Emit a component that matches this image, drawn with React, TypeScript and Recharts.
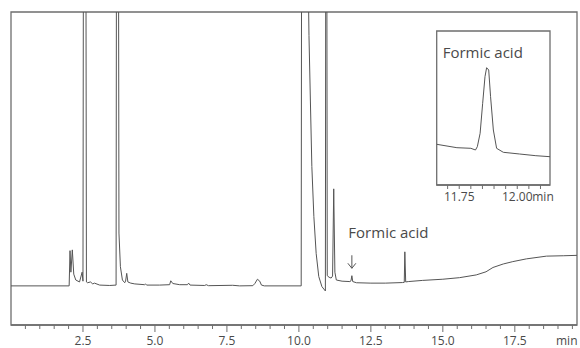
import React from 'react';
import { LineChart, Line, XAxis, YAxis, ReferenceDot, ReferenceArea } from 'recharts';

// ---------- data ----------
// main chromatogram: retention time (min) and detector signal (arb. units)
const mainTime = [
  0, 2.02, 2.05, 2.08, 2.13, 2.18, 2.25, 2.38, 2.47, 2.5,
  2.535, 2.58, 2.62, 2.66, 2.76, 2.84, 2.9, 3.08, 3.43, 3.65,
  3.68, 3.71, 3.75, 3.8, 3.87, 3.95, 3.98, 4.02, 4.06, 4.16,
  4.3, 4.64, 4.67, 4.71, 5.16, 5.51, 5.55, 5.62, 5.86, 6.13,
  6.17, 6.22, 6.73, 6.78, 6.86, 7.7, 7.94, 8.4, 8.47, 8.56,
  8.64, 8.7, 8.8, 10.08, 10.11, 10.3, 10.33, 10.35, 10.4, 10.45,
  10.52, 10.6, 10.69, 10.8, 10.92, 10.95, 10.985, 11.05, 11.12, 11.17,
  11.21, 11.25, 11.3, 11.5, 11.77, 11.81, 11.84, 11.87, 12.0, 12.5,
  13.0, 13.6, 13.66, 13.68, 13.71, 13.8, 14.3, 15.0, 15.58, 16.16,
  16.5, 16.74, 17.1, 17.43, 17.9, 18.6, 19.2, 19.66,
];
const mainSignal = [
  0, 0, 9.0, 3.5, 9.2, 3.0, 1.5, 1.0, 3.5, 1.2,
  200, 200, 1.0, 0.8, 1.0, 0.5, 0.7, 0.2, 0.1, 0.2,
  200, 200, 13.5, 4.9, 1.5, 0.8, 1.2, 3.2, 1.0, 0.7,
  0.5, 0.3, 0.5, 0.2, 0.2, 0.3, 1.3, 0.6, 0.3, 0.3,
  0.7, 0.2, 0.1, 0.3, 0.05, 0.15, 0, 0.05, 0.6, 1.7,
  1.2, 0.2, 0, 0, 200, 200, 75, 64, 47, 30.5,
  17.7, 8.3, 2.4, -0.2, -1.3, 200, 2.6, 2.2, 2.0, 2.5,
  24.8, 3.5, 1.5, 1.2, 1.1, 1.3, 2.6, 1.1, 0.8, 0.7,
  0.7, 0.85, 0.9, 8.7, 1.0, 1.1, 1.4, 1.7, 2.1, 2.8,
  3.6, 4.7, 5.6, 6.2, 6.9, 7.6, 7.7, 7.8,
];

// inset: zoom on the formic acid peak
const insetTime = [
  11.653, 11.74, 11.8, 11.82, 11.828, 11.84, 11.851, 11.861, 11.868, 11.877,
  11.885, 11.897, 11.911, 11.94, 12.01, 12.08, 12.141,
];
const insetSignal = [
  40.7, 37.3, 36.7, 35, 38.3, 51.7, 81.7, 108.3, 117.3, 115,
  88.3, 55, 36.7, 32.7, 31, 29.3, 28.3,
];

// axes
const mainDomain = [0, 19.66];
const mainYDomain = [-10, 70];
const mainMinorTicks = [
  0.5, 1, 1.5, 2, 2.5, 3, 3.5, 4, 4.5, 5, 5.5, 6, 6.5, 7, 7.5, 8, 8.5, 9, 9.5, 10,
  10.5, 11, 11.5, 12, 12.5, 13, 13.5, 14, 14.5, 15, 15.5, 16, 16.5, 17, 17.5, 18,
  18.5, 19, 19.5,
];
const mainMajorTicks = [2.5, 5, 7.5, 10, 12.5, 15, 17.5];
const mainMajorLabels = ['2.5', '5.0', '7.5', '10.0', '12.5', '15.0', '17.5'];
const unitLabel = 'min';
const mainUnitPos = 19.66;

const insetDomain = [11.653, 12.141];
const insetYDomain = [0, 154];
const insetTicks = [11.7, 11.75, 11.8, 11.85, 11.9, 11.95, 12.0, 12.05, 12.1];
const insetMajorTicks = [11.75, 12.0];
const insetMajorLabels = ['11.75', '12.00'];

const peakName = 'Formic acid';
const peakTime = 11.84;
const arrowTipValue = 4.5;

// ---------- styling ----------
const FONT = '"Open Sans", "Noto Sans", sans-serif';
const INK = '#555555';
const FRAME = '#6e6e6e';
const TEXT = '#4a4a4a';

const mainData = mainTime.map((t, i) => ({ t, v: mainSignal[i] }));
const insetData = insetTime.map((t, i) => ({ t, v: insetSignal[i] }));

const MainTick = (props: any) => {
  const { x, y, payload } = props;
  const val = payload.value;
  if (val === mainUnitPos) {
    return (
      <text x={x + 0.5} y={y + 20} textAnchor="end" fontFamily={FONT} fontSize={12} fill={TEXT}>
        {unitLabel}
      </text>
    );
  }
  const idx = mainMajorTicks.indexOf(val);
  const major = idx >= 0;
  return (
    <g>
      <line x1={x} y1={y} x2={x} y2={y + (major ? 7 : 4)} stroke={FRAME} strokeWidth={1} />
      {major && (
        <text x={x} y={y + 20} textAnchor="middle" fontFamily={FONT} fontSize={12} fill={TEXT}>
          {mainMajorLabels[idx]}
        </text>
      )}
    </g>
  );
};

const InsetTick = (props: any) => {
  const { x, y, payload } = props;
  const val = payload.value;
  const idx = insetMajorTicks.indexOf(val);
  const major = idx >= 0;
  const isLast = idx === insetMajorTicks.length - 1;
  return (
    <g>
      <line x1={x} y1={y} x2={x} y2={y + 4} stroke={FRAME} strokeWidth={1} />
      {major && (
        <text x={x} y={y + 16} textAnchor="middle" fontFamily={FONT} fontSize={12} fill={TEXT}>
          {insetMajorLabels[idx]}
        </text>
      )}
      {isLast && (
        <text x={x + 15} y={y + 16} textAnchor="start" fontFamily={FONT} fontSize={12} fill={TEXT}>
          {unitLabel}
        </text>
      )}
    </g>
  );
};

const ArrowShape = (props: any) => {
  const { cx, cy } = props;
  return (
    <g>
      <line x1={cx} y1={cy - 13} x2={cx} y2={cy} stroke={INK} strokeWidth={1} />
      <path d={`M${cx - 4},${cy - 5} L${cx},${cy} L${cx + 4},${cy - 5}`} fill="none" stroke={INK} strokeWidth={1} />
      <text x={cx - 3.5} y={cy - 30} fontFamily={FONT} fontSize={15} fill={TEXT}>
        {peakName}
      </text>
    </g>
  );
};

const InsetTitle = (props: any) => {
  const { cx, cy } = props;
  return (
    <text x={cx + 6} y={cy + 27} fontFamily={FONT} fontSize={15} fill={TEXT}>
      {peakName}
    </text>
  );
};

export default function App() {
  return (
    <div style={{ position: 'absolute', left: 0, top: 0, width: 580, height: 348, background: '#fff' }}>
      <div style={{ position: 'absolute', left: 0, top: 0 }}>
        <LineChart width={580} height={348} data={mainData} margin={{ top: 12, right: 3, left: 11, bottom: 0 }}>
          <XAxis
            dataKey="t"
            type="number"
            domain={mainDomain}
            allowDataOverflow
            ticks={[...mainMinorTicks, mainUnitPos]}
            interval={0}
            tick={<MainTick />}
            tickLine={false}
            tickSize={0}
            tickMargin={0}
            height={23}
            axisLine={{ stroke: FRAME, strokeWidth: 1.3 }}
          />
          <YAxis
            type="number"
            domain={mainYDomain}
            allowDataOverflow
            width={0}
            hide
          />
          <ReferenceArea
            x1={mainDomain[0]}
            x2={mainDomain[1]}
            y1={mainYDomain[0]}
            y2={mainYDomain[1]}
            fill="none"
            fillOpacity={0}
            stroke={FRAME}
            strokeWidth={1.3}
            ifOverflow="visible"
          />
          <Line
            dataKey="v"
            type="linear"
            stroke={INK}
            strokeWidth={1}
            dot={false}
            activeDot={false}
            isAnimationActive={false}
          />
          <ReferenceDot x={peakTime} y={arrowTipValue} r={0} shape={<ArrowShape />} />
        </LineChart>
      </div>
      <div style={{ position: 'absolute', left: 420, top: 20 }}>
        <LineChart width={160} height={190} data={insetData} margin={{ top: 11, right: 30, left: 16.7, bottom: 0 }}>
          <XAxis
            dataKey="t"
            type="number"
            domain={insetDomain}
            allowDataOverflow
            ticks={insetTicks}
            interval={0}
            tick={<InsetTick />}
            tickLine={false}
            tickSize={0}
            tickMargin={0}
            height={25}
            axisLine={{ stroke: FRAME, strokeWidth: 1.3 }}
          />
          <YAxis
            type="number"
            domain={insetYDomain}
            allowDataOverflow
            width={0}
            hide
          />
          <ReferenceArea
            x1={insetDomain[0]}
            x2={insetDomain[1]}
            y1={insetYDomain[0]}
            y2={insetYDomain[1]}
            fill="none"
            fillOpacity={0}
            stroke={FRAME}
            strokeWidth={1.3}
            ifOverflow="visible"
          />
          <Line
            dataKey="v"
            type="linear"
            stroke={INK}
            strokeWidth={1}
            dot={false}
            activeDot={false}
            isAnimationActive={false}
          />
          <ReferenceDot x={insetDomain[0]} y={insetYDomain[1]} r={0} ifOverflow="visible" shape={<InsetTitle />} />
        </LineChart>
      </div>
    </div>
  );
}
